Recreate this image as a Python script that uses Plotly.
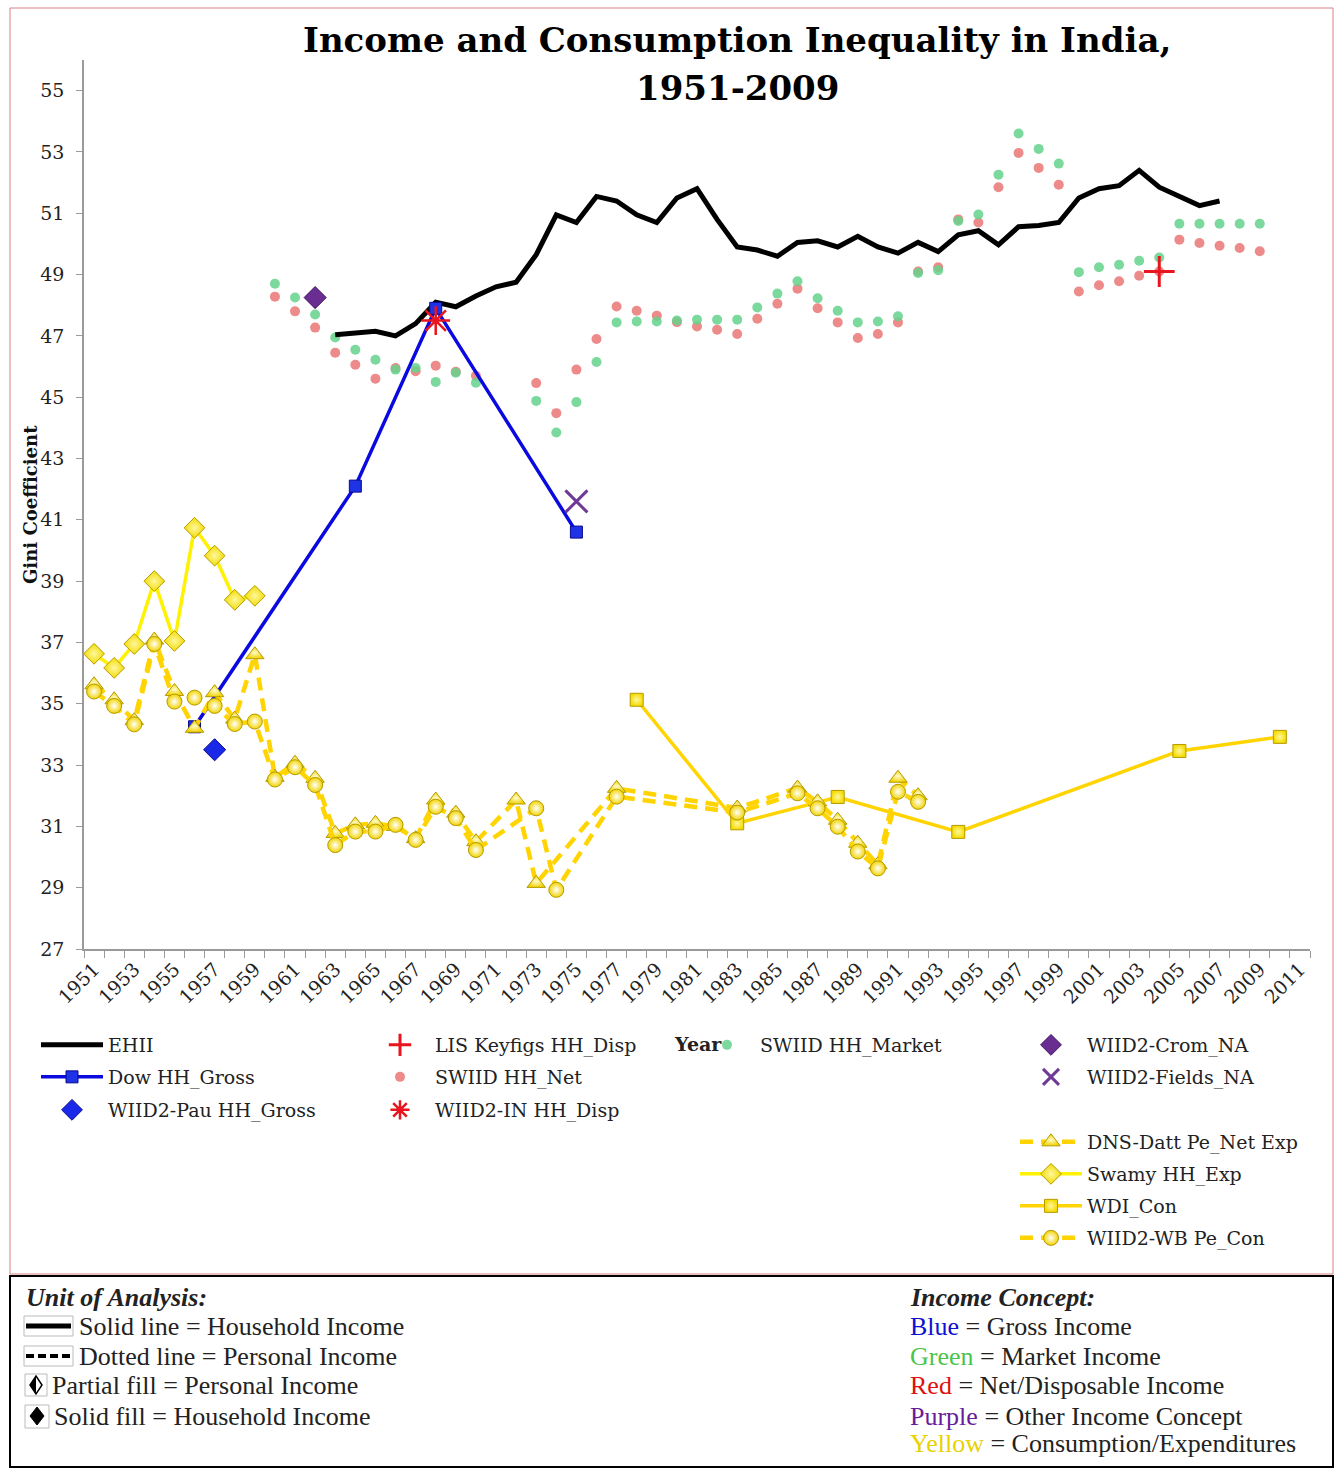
import plotly.graph_objects as go

# ---------------- data ----------------
ehii_years = list(range(1963, 2008))
ehii = [47.04, 47.1, 47.15, 47.0, 47.4, 48.1, 47.95, 48.3, 48.6, 48.75,
        49.65, 50.95, 50.7, 51.55, 51.4, 50.95, 50.7, 51.5, 51.8, 50.8,
        49.9, 49.8, 49.6, 50.05, 50.1, 49.9, 50.25, 49.9, 49.7, 50.05,
        49.75, 50.3, 50.43, 49.97, 50.56, 50.6, 50.7, 51.5, 51.8, 51.9,
        52.4, 51.85, 51.55, 51.25, 51.4]

swiid_years = list(range(1960, 1971)) + list(range(1973, 2010))
swiid_market = [48.7, 48.25, 47.7, 46.95, 46.55, 46.22, 45.9, 45.95, 45.5, 45.8, 45.47,
                44.88, 43.85, 44.84, 46.15, 47.44, 47.47, 47.47, 47.5, 47.53, 47.53,
                47.53, 47.93, 48.38, 48.78, 48.23, 47.82, 47.44, 47.47, 47.64, 49.05,
                49.14, 50.75, 50.96, 52.26, 53.6, 53.1, 52.62, 49.08, 49.24, 49.32,
                49.45, 49.56, 50.66, 50.66, 50.66, 50.66, 50.66]
swiid_net = [48.28, 47.8, 47.27, 46.45, 46.06, 45.6, 45.95, 45.85, 46.03, 45.83, 45.7,
             45.46, 44.48, 45.9, 46.9, 47.96, 47.82, 47.66, 47.45, 47.31, 47.2,
             47.06, 47.56, 48.05, 48.54, 47.9, 47.44, 46.93, 47.06, 47.44, 49.1,
             49.24, 50.8, 50.7, 51.85, 52.97, 52.48, 51.93, 48.45, 48.65, 48.78,
             48.96, 49.1, 50.14, 50.03, 49.94, 49.87, 49.76]

dow_years = [1956, 1964, 1968, 1975]
dow = [34.25, 42.1, 47.9, 40.6]
pau_years = [1957]
pau = [33.5]
lis_years = [2004]
lis = [49.1]
wiid_in_years = [1968]
wiid_in = [47.5]
crom_years = [1962]
crom = [48.25]
fields_years = [1975]
fields = [41.6]

swamy_years = list(range(1951, 1960))
swamy = [36.63, 36.17, 36.95, 39.0, 37.05, 40.74, 39.83, 38.39, 38.52]

wdi_years = [1978, 1983, 1988, 1994, 2005, 2010]
wdi = [35.13, 31.1, 31.96, 30.82, 33.46, 33.92]

dns_years = list(range(1951, 1971)) + [1972, 1973, 1977, 1983, 1986, 1987, 1988, 1989, 1990, 1991, 1992]
dns = [35.62, 35.13, 34.45, 37.08, 35.4, 34.2, 35.36, 34.5, 36.6, 32.6,
       33.06, 32.57, 30.77, 31.05, 31.1, 31.0, 30.6, 31.86, 31.43, 30.5,
       31.86, 29.14, 32.24, 31.6, 32.25, 31.8, 31.2, 30.45, 29.75, 32.57, 32.0]

wb_years = list(range(1951, 1971)) + [1973, 1974, 1977, 1983, 1986, 1987, 1988, 1989, 1990, 1991, 1992]
wb = [35.4, 34.93, 34.33, 36.95, 35.07, 35.2, 34.93, 34.34, 34.42, 32.53,
      32.93, 32.35, 30.39, 30.83, 30.83, 31.05, 30.56, 31.64, 31.27, 30.23,
      31.59, 28.93, 31.97, 31.45, 32.08, 31.59, 30.99, 30.18, 29.63, 32.13, 31.8]

tick_years = list(range(1951, 2012, 2))
y_ticks = list(range(27, 56, 2))

# ---------------- layout helpers ----------------
W, H = 1335, 1469
L, R, T, B = 84, 25, 60, 520
PW, PH = W - L - R, H - T - B


def px(x):
    return (x - L) / PW


def py(y):
    return (H - B - y) / PH


SERIF = "DejaVu Serif"
BOX = "Liberation Serif"
GOLD = "#FFD400"
GOLD_EDGE = "#B59A00"

fig = go.Figure()

# legend placement: (legend id, x of text start, y of row centre, symbol width)
LEG = {}


def leg(name, text_x, cy, w):
    LEG[name] = dict(x=(text_x - w - 10) / W, y=1 - (cy - 19) / H, itemwidth=w)
    return name


fig.add_trace(go.Scatter(x=swiid_years, y=swiid_net, mode="markers", name="SWIID HH_Net",
                         legend=leg("legend6", 435, 1077, 60),
                         marker=dict(size=10, color="rgba(234,118,118,0.85)", line=dict(width=0))))
fig.add_trace(go.Scatter(x=swiid_years, y=swiid_market, mode="markers", name="SWIID HH_Market",
                         legend=leg("legend8", 760, 1045, 56),
                         marker=dict(size=10, color="rgba(100,210,140,0.85)", line=dict(width=0))))
fig.add_trace(go.Scatter(x=ehii_years, y=ehii, mode="lines", name="EHII",
                         legend=leg("legend", 108, 1045, 62),
                         line=dict(color="black", width=5)))
fig.add_trace(go.Scatter(x=dow_years, y=dow, mode="lines+markers", name="Dow HH_Gross",
                         legend=leg("legend2", 108, 1077, 62),
                         line=dict(color="#0A0AE0", width=3.5),
                         marker=dict(symbol="square", size=12, color="#1E32E6",
                                     line=dict(color="#0A0A90", width=1))))
fig.add_trace(go.Scatter(x=pau_years, y=pau, mode="markers", name="WIID2-Pau HH_Gross",
                         legend=leg("legend3", 108, 1110, 62),
                         marker=dict(symbol="diamond", size=17, color="#1A28E8",
                                     line=dict(color="#0A0A90", width=1))))
fig.add_trace(go.Scatter(x=lis_years, y=lis, mode="markers", name="LIS Keyfigs HH_Disp",
                         legend=leg("legend5", 435, 1045, 60),
                         marker=dict(symbol="cross-thin", size=22, color="#E8141E",
                                     line=dict(color="#E8141E", width=3))))
fig.add_trace(go.Scatter(x=wiid_in_years, y=wiid_in, mode="markers", name="WIID2-IN HH_Disp",
                         legend=leg("legend7", 435, 1110, 60),
                         marker=dict(symbol="asterisk-open", size=24, color="#E8141E",
                                     line=dict(color="#E8141E", width=2.5))))
fig.add_trace(go.Scatter(x=crom_years, y=crom, mode="markers", name="WIID2-Crom_NA",
                         legend=leg("legend9", 1087, 1045, 62),
                         marker=dict(symbol="diamond", size=17, color="#6A2D91",
                                     line=dict(color="#3E1560", width=1))))
fig.add_trace(go.Scatter(x=fields_years, y=fields, mode="markers", name="WIID2-Fields_NA",
                         legend=leg("legend10", 1087, 1077, 62),
                         marker=dict(symbol="x-thin-open", size=22, color="#6E3A96",
                                     line=dict(color="#6E3A96", width=3))))
fig.add_trace(go.Scatter(x=swamy_years, y=swamy, mode="lines+markers", name="Swamy HH_Exp",
                         legend=leg("legend12", 1087, 1174, 62),
                         line=dict(color="#FFF200", width=3.5),
                         marker=dict(symbol="diamond", size=16, color="#F2DC00",
                                     gradient=dict(type="radial", color="#FFF7A0"),
                                     line=dict(color=GOLD_EDGE, width=1))))
fig.add_trace(go.Scatter(x=wdi_years, y=wdi, mode="lines+markers", name="WDI_Con",
                         legend=leg("legend13", 1087, 1206, 62),
                         line=dict(color=GOLD, width=3.5),
                         marker=dict(symbol="square", size=13, color="#F5DC00",
                                     gradient=dict(type="radial", color="#FFF7A0"),
                                     line=dict(color=GOLD_EDGE, width=1))))
fig.add_trace(go.Scatter(x=dns_years, y=dns, mode="lines+markers", name="DNS-Datt Pe_Net Exp",
                         legend=leg("legend11", 1087, 1142, 62),
                         line=dict(color=GOLD, width=4.5, dash="13px,8px"),
                         marker=dict(symbol="triangle-up", size=16, color="#F2D400",
                                     gradient=dict(type="radial", color="#FFFBD0"),
                                     line=dict(color=GOLD_EDGE, width=1))))
fig.add_trace(go.Scatter(x=wb_years, y=wb, mode="lines+markers", name="WIID2-WB Pe_Con",
                         legend=leg("legend14", 1087, 1238, 62),
                         line=dict(color=GOLD, width=4.5, dash="13px,8px"),
                         marker=dict(symbol="circle", size=15, color="#F2D400",
                                     gradient=dict(type="radial", color="white"),
                                     line=dict(color=GOLD_EDGE, width=1))))

leg_common = dict(xref="container", yref="container", xanchor="left", yanchor="top",
                  bgcolor="rgba(0,0,0,0)", font=dict(family=SERIF, size=19, color="#222"),
                  tracegroupgap=0)
legend_layout = {k: dict(**v, **leg_common) for k, v in LEG.items()}

fig.update_layout(
    width=W, height=H,
    margin=dict(l=L, r=R, t=T, b=B, autoexpand=False),
    paper_bgcolor="white", plot_bgcolor="white",
    hovermode=False,
    showlegend=True,
    xaxis=dict(range=[1950.5, 2011.5], tickmode="array", tickvals=tick_years,
               ticktext=[str(v) for v in tick_years], tickangle=-45,
               ticks="", showline=True, linecolor="#9a9a9a", linewidth=1.5,
               showgrid=False, zeroline=False, automargin=False,
               tickfont=dict(family=SERIF, size=19, color="#222"),
               minor=dict(ticks="outside", ticklen=7, tick0=1950.5, dtick=1,
                          tickcolor="#9a9a9a", tickwidth=1, showgrid=False)),
    yaxis=dict(range=[27, 56], tickmode="array", tickvals=y_ticks,
               ticks="outside", ticklen=6, tickcolor="#9a9a9a",
               showline=True, linecolor="#9a9a9a", linewidth=1.5,
               showgrid=False, zeroline=False, ticklabelstandoff=8, automargin=False,
               tickfont=dict(family=SERIF, size=19, color="#222")),
    **legend_layout,
)

shapes = []
shapes.append(dict(type="rect", xref="paper", yref="paper", x0=px(10), x1=px(1333),
                   y0=py(1274), y1=py(8), line=dict(color="#D98080", width=1)))
shapes.append(dict(type="rect", xref="paper", yref="paper", x0=px(10), x1=px(1333),
                   y0=py(1467), y1=py(1276), line=dict(color="black", width=2)))
shapes.append(dict(type="rect", xref="paper", yref="paper", x0=px(24), x1=px(73),
                   y0=py(1336), y1=py(1316), line=dict(color="#bbbbbb", width=1)))
shapes.append(dict(type="line", xref="paper", yref="paper", x0=px(26), x1=px(71),
                   y0=py(1326), y1=py(1326), line=dict(color="black", width=5)))
shapes.append(dict(type="rect", xref="paper", yref="paper", x0=px(24), x1=px(73),
                   y0=py(1366), y1=py(1346), line=dict(color="#bbbbbb", width=1)))
shapes.append(dict(type="line", xref="paper", yref="paper", x0=px(26), x1=px(71),
                   y0=py(1356), y1=py(1356), line=dict(color="black", width=4, dash="8px,4px")))
shapes.append(dict(type="rect", xref="paper", yref="paper", x0=px(25), x1=px(47),
                   y0=py(1396), y1=py(1374), line=dict(color="#bbbbbb", width=1)))
shapes.append(dict(type="rect", xref="paper", yref="paper", x0=px(25), x1=px(49),
                   y0=py(1428), y1=py(1405), line=dict(color="#bbbbbb", width=1)))


def diamond_path(cx, cy, w, h):
    return "M {} {} L {} {} L {} {} L {} {} Z".format(
        px(cx), py(cy - h), px(cx + w), py(cy), px(cx), py(cy + h), px(cx - w), py(cy))


def half_diamond_path(cx, cy, w, h):
    return "M {} {} L {} {} L {} {} Z".format(
        px(cx), py(cy - h), px(cx), py(cy + h), px(cx - w), py(cy))


shapes.append(dict(type="path", xref="paper", yref="paper", path=diamond_path(36, 1385, 6, 9),
                   line=dict(color="black", width=1.5), fillcolor="white"))
shapes.append(dict(type="path", xref="paper", yref="paper", path=half_diamond_path(36, 1385, 6, 9),
                   line=dict(color="black", width=0), fillcolor="black"))
shapes.append(dict(type="path", xref="paper", yref="paper", path=diamond_path(37, 1416, 7, 9),
                   line=dict(color="black", width=1), fillcolor="black"))

annotations = []


def ann(text, x, y, size=26, family=BOX, color="#222", xanchor="left", **kw):
    annotations.append(dict(text=text, x=px(x), y=py(y), xref="paper", yref="paper",
                            showarrow=False, xanchor=xanchor, yanchor="middle",
                            font=dict(family=family, size=size, color=color), **kw))


# title (two lines)
ann("<b>Income and Consumption Inequality in India,</b>", 737, 40, size=34, family=SERIF,
    color="black", xanchor="center")
ann("<b>1951-2009</b>", 737, 88, size=34, family=SERIF, color="black", xanchor="center")
# y axis title
ann("<b>Gini Coefficient</b>", 30, 505, size=18, family=SERIF, color="#111",
    xanchor="center", textangle=-90)
# stray "Year" label in legend
ann("<b>Year</b>", 672, 1044, size=19, family=SERIF, color="#222")

# bottom box texts
ann("<b><i>Unit of Analysis:</i></b>", 24, 1297)
ann("Solid line = Household Income", 77, 1326)
ann("Dotted line = Personal Income", 77, 1356)
ann("Partial fill = Personal Income", 50, 1385)
ann("Solid fill = Household Income", 52, 1416)
ann("<b><i>Income Concept:</i></b>", 908, 1297)
ann("<span style='color:#1010D0'>Blue</span> = Gross Income", 908, 1326)
ann("<span style='color:#4CC44C'>Green</span> = Market Income", 908, 1356)
ann("<span style='color:#E01010'>Red</span> = Net/Disposable Income", 908, 1385)
ann("<span style='color:#6A1B9A'>Purple</span> = Other Income Concept", 908, 1416)
ann("<span style='color:#E8D200'>Yellow</span> = Consumption/Expenditures", 908, 1443)

fig.update_layout(shapes=shapes, annotations=annotations)

fig.write_html("out.html", config={"displayModeBar": False},
               post_script="document.body.style.margin='0px';document.body.style.padding='0px';")
